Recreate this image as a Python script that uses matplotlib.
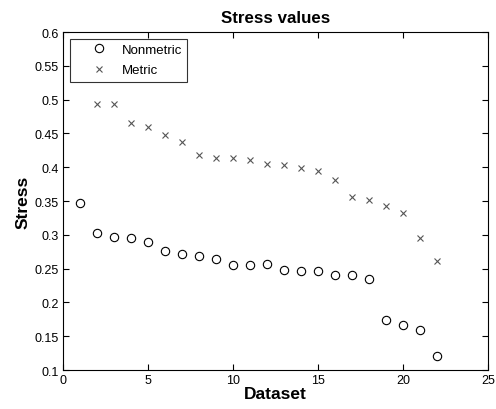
import numpy as np
import matplotlib
matplotlib.use('Agg')
import matplotlib.pyplot as plt

plt.rcParams['font.family'] = ['Liberation Sans', 'DejaVu Sans']

# stress per dataset
datasets_nonmetric = list(range(1, 23))
stress_nonmetric = [0.347, 0.303, 0.297, 0.295, 0.289, 0.276, 0.272, 0.269, 0.264, 0.256, 0.256,
                    0.257, 0.248, 0.247, 0.246, 0.240, 0.240, 0.235, 0.174, 0.166, 0.159, 0.121]
datasets_metric = list(range(2, 23))
stress_metric = [0.493, 0.493, 0.466, 0.459, 0.448, 0.438, 0.418, 0.413, 0.413, 0.410, 0.405,
                 0.403, 0.399, 0.394, 0.381, 0.356, 0.352, 0.343, 0.333, 0.296, 0.261]

xticks = [0, 5, 10, 15, 20, 25]
yticks = [0.1, 0.15, 0.2, 0.25, 0.3, 0.35, 0.4, 0.45, 0.5, 0.55, 0.6]

fig = plt.figure(figsize=(4.96, 4.10), dpi=100)
ax = fig.add_axes([0.127, 0.095, 0.857, 0.8245])

ax.plot(datasets_nonmetric, stress_nonmetric, 'o', mfc='none', mec='black', ms=6, mew=0.8,
        label='Nonmetric')
ax.plot(datasets_metric, stress_metric, 'x', color='#555555', ms=4, mew=0.8, label='Metric')

ax.set_xlim(0, 25)
ax.set_ylim(0.1, 0.6)
ax.set_xticks(xticks)
ax.set_xticklabels([str(t) for t in xticks])
ax.set_yticks(yticks)
ax.set_yticklabels([('%g' % t) for t in yticks])
ax.tick_params(direction='in', top=True, right=True, labelsize=9, length=4, width=0.8, pad=3)
for s in ax.spines.values():
    s.set_linewidth(0.8)

ax.set_title('Stress values', fontsize=12.2, fontweight='bold', pad=7)
ax.set_xlabel('Dataset', fontsize=12.5, fontweight='bold', labelpad=0)
ax.set_ylabel('Stress', fontsize=12.5, fontweight='bold', labelpad=3)

leg = ax.legend(loc='upper left', fontsize=9.5, frameon=True, fancybox=False, edgecolor='black',
                borderaxespad=0.5, handlelength=3.6, handletextpad=-0.05, borderpad=0.4,
                labelspacing=0.6)
leg.get_frame().set_linewidth(0.8)

fig.savefig('out.png', dpi=100)
